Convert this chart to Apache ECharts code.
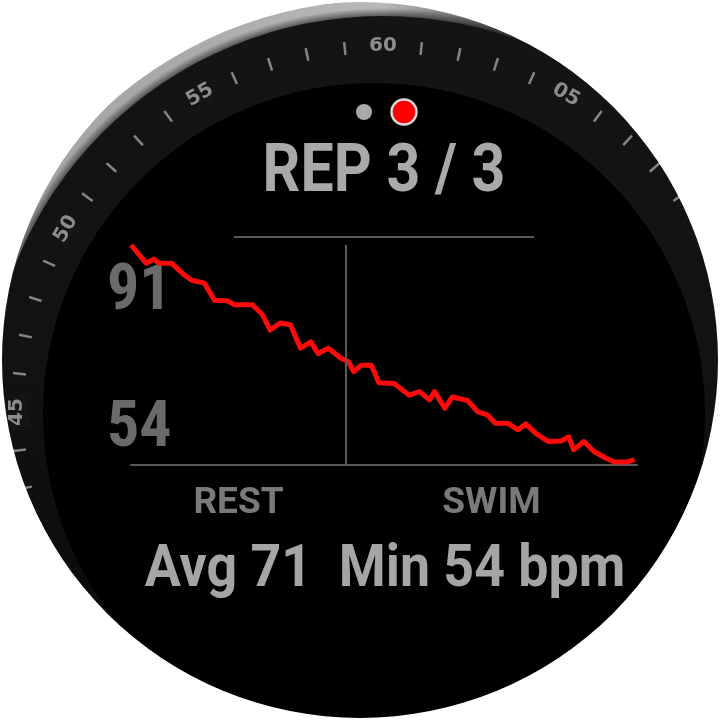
<!DOCTYPE html>
<html>
<head>
<meta charset="utf-8">
<script src="https://cdn.jsdelivr.net/npm/echarts@6/dist/echarts.min.js"></script>
<style>
html,body{margin:0;padding:0;background:#fff;}
#c{width:720px;height:720px;}
</style>
</head>
<body>
<div id="c"></div>
<script>
// ---- data ----
const timeSec = [0,6,9,11,16,21,24,29,33,38,41,48,52,55,59,63,67,71,74,78,83,86,88,91,95,98,104,110,114,118,120,124,127,133,137,141,144,149,153,156,160,165,170,173,175,179,183,188,191,196,199];
const heartRate = [91,87.9,88.6,87.9,87.9,85.9,85,84.5,81.6,81.5,80.8,80.8,79.1,76.5,77.7,77.4,73.4,74.5,72.5,73.4,71.7,71.1,69.4,70.5,70.5,67.5,67.4,65.4,66,64.6,66,63.2,65.1,64.5,62.6,62,60.6,60.6,59.5,60.5,58.9,57.5,57.6,58.3,56.1,57.5,55.8,54.6,54,54,54.4];
const phaseNames = ['REST', 'SWIM'];
const restEnd = 85;
const totalTime = 200;
const yTickLabels = [54, 91];
const bezelLabels = ['60','05','10','15','20','25','30','35','40','45','50','55'];
const titleText = 'REP 3 / 3';
const summaryText = 'Avg 71  Min 54 bpm';

const phaseMid = [restEnd / 2, (restEnd + totalTime) / 2];

const chart = echarts.init(document.getElementById('c'), null, {renderer: 'canvas'});
const WC = [383, 412]; // bezel centre
const SC = [374, 414]; // screen centre
const BEZEL = '#141414';

const gaugeBase = {
  type: 'gauge', center: WC, radius: 372,
  axisLine: {show: false, lineStyle: {width: 0}},
  progress: {show: false}, pointer: {show: false}, anchor: {show: false},
  title: {show: false}, detail: {show: false},
  splitLine: {show: false, length: 0, distance: 0},
  data: []
};

const option = {
  backgroundColor: '#ffffff',
  animation: false,
  grid: {left: 131, right: 83, top: 245, bottom: 255},
  xAxis: {
    type: 'value', min: 0, max: totalTime,
    axisLine: {show: true, lineStyle: {color: '#5a5a5a', width: 2}},
    axisTick: {show: false},
    splitLine: {show: false},
    axisLabel: {
      customValues: phaseMid,
      formatter: function (v) { return v < restEnd ? phaseNames[0] : phaseNames[1]; },
      color: '#7a7a7a', fontSize: 37, fontWeight: 'bold', fontFamily: 'Roboto',
      margin: 20
    }
  },
  yAxis: {
    type: 'value', min: 53.5, max: 91,
    axisLine: {show: false}, axisTick: {show: false}, splitLine: {show: false},
    axisLabel: {
      customValues: yTickLabels,
      align: 'left', margin: 24,
      formatter: function (v) { return v === 91 ? '{t|' + v + '}' : '{b|' + v + '}'; },
      rich: {
        t: {color: '#6a6a6a', fontSize: 64, fontWeight: 'bold', fontStyle: 'condensed', fontFamily: 'Roboto', padding: [96, 0, 0, 0]},
        b: {color: '#6a6a6a', fontSize: 64, fontWeight: 'bold', fontStyle: 'condensed', fontFamily: 'Roboto', padding: [0, 0, 64, 0]}
      }
    }
  },
  graphic: [
    {type: 'circle', z: -10, shape: {cx: WC[0], cy: WC[1], r: 412},
     style: {fill: new echarts.graphic.LinearGradient(0, 0, 1, 0.35, [
       {offset: 0, color: '#9a9a9a'}, {offset: 0.45, color: '#b8b8b8'}, {offset: 0.62, color: '#3a3a3a'}, {offset: 1, color: '#141414'}])}},
    {type: 'circle', z: -9, shape: {cx: WC[0], cy: WC[1], r: 404},
     style: {fill: new echarts.graphic.RadialGradient(0.5, 0.5, 0.5, [
       {offset: 0, color: 'rgba(20,20,20,1)'}, {offset: 0.965, color: 'rgba(20,20,20,1)'}, {offset: 1, color: 'rgba(20,20,20,0)'}])}},
    {type: 'circle', z: -9, shape: {cx: WC[0], cy: WC[1], r: 396},
     style: {fill: new echarts.graphic.LinearGradient(0, 0, 0, 1, [
       {offset: 0, color: '#141414'}, {offset: 0.45, color: '#121212'}, {offset: 0.75, color: '#0b0b0b'}, {offset: 1, color: '#070707'}])}},
    {type: 'circle', z: -8, shape: {cx: SC[0], cy: SC[1], r: 331}, style: {fill: '#000000'}},
    {type: 'line', z: 5, shape: {x1: 234, y1: 237, x2: 534, y2: 237}, style: {stroke: '#5a5a5a', lineWidth: 2}},
    {type: 'circle', z: 5, shape: {cx: 364, cy: 112, r: 8}, style: {fill: '#a8a8a8'}},
    {type: 'circle', z: 5, shape: {cx: 404, cy: 112, r: 12.5}, style: {fill: '#ff0000', stroke: '#d8d8d8', lineWidth: 2.5}},
    {type: 'text', z: 5, x: 384, y: 174, scaleX: 0.895,
     style: {text: titleText, font: 'bold 66px Roboto', fill: '#a9a9a9', align: 'center', verticalAlign: 'middle', textAlign: 'center', textVerticalAlign: 'middle'}},
    {type: 'text', z: 5, x: 385, y: 571, scaleX: 0.91,
     style: {text: summaryText, font: 'bold 59px Roboto', fill: '#a5a5a5', align: 'center', verticalAlign: 'middle', textAlign: 'center', textVerticalAlign: 'middle'}},
    {type: 'ring', z: 100, shape: {cx: 360, cy: 360, r: 900, r0: 358}, style: {fill: '#ffffff'}}
  ],
  series: [
    Object.assign({}, gaugeBase, {
      z: 2,
      startAngle: 90, endAngle: -270, min: 0, max: 60, splitNumber: 12,
      axisTick: {show: true, splitNumber: 5, length: 13, distance: 0, lineStyle: {color: '#858585', width: 2.5}},
      axisLabel: {show: false}
    }),
    Object.assign({}, gaugeBase, {
      z: 3,
      startAngle: 90, endAngle: -240, min: 0, max: 55, splitNumber: 11,
      axisTick: {show: false},
      axisLabel: {
        distance: 6, rotate: 'tangential', color: '#8c8c8c', fontSize: 20, fontWeight: 'bold', fontFamily: 'DejaVu Sans',
        backgroundColor: BEZEL, padding: [3, 4],
        formatter: function (v) { return bezelLabels[Math.round(v / 5)]; }
      }
    }),
    {
      type: 'line',
      data: timeSec.map(function (t, i) { return [t, heartRate[i]]; }),
      symbol: 'none',
      lineStyle: {color: '#ff0a0a', width: 5, join: 'round'},
      z: 4,
      markLine: {
        silent: true, symbol: 'none', label: {show: false},
        lineStyle: {color: '#5a5a5a', width: 2, type: 'solid'},
        data: [{xAxis: restEnd}]
      }
    }
  ]
};
chart.setOption(option);
</script>
</body>
</html>
